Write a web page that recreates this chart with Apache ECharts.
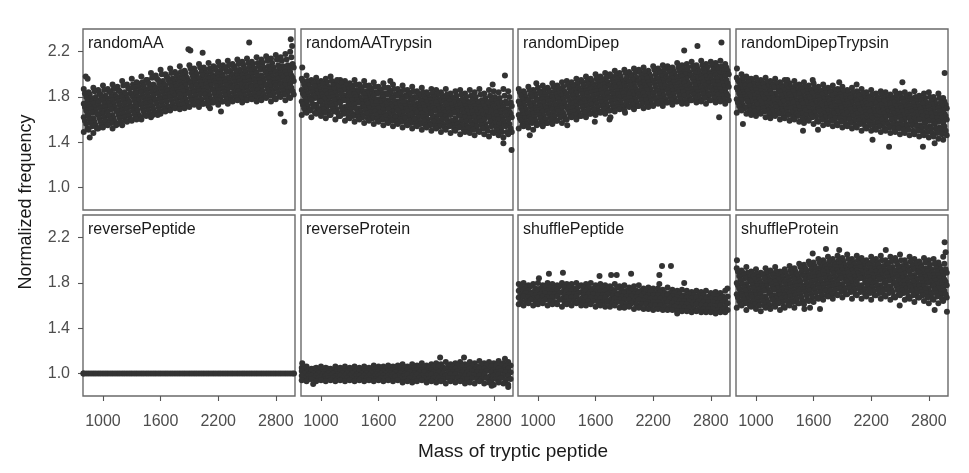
<!DOCTYPE html>
<html>
<head>
<meta charset="utf-8">
<script src="https://cdn.jsdelivr.net/npm/echarts@6/dist/echarts.min.js"></script>
<style>html,body{margin:0;padding:0;background:#fff;}#c{width:969px;height:473px;}</style>
</head>
<body>
<div id="c"></div>
<script>
// ---------- data ----------
const panels = ['randomAA','randomAATrypsin','randomDipep','randomDipepTrypsin','reversePeptide','reverseProtein','shufflePeptide','shuffleProtein'];
const xTicks = [1000,1600,2200,2800];
const yTicks = [1.0,1.4,1.8,2.2];
const massA = [800,850,900,950,1000,1050,1100,1150,1200,1250,1300,1350,1400,1450,1500,1550,1600,1650,1700,1750,1800,1850,1900,1950,2000,2050,2100,2150,2200,2250,2300,2350,2400,2450,2500,2550,2600,2650,2700,2750,2800,2850,2900,2950];
const massB = [825,875,925,975,1025,1075,1125,1175,1225,1275,1325,1375,1425,1475,1525,1575,1625,1675,1725,1775,1825,1875,1925,1975,2025,2075,2125,2175,2225,2275,2325,2375,2425,2475,2525,2575,2625,2675,2725,2775,2825,2875,2925,2975];
const massC = [812,862,912,962,1012,1062,1112,1162,1212,1262,1312,1362,1412,1462,1512,1562,1612,1662,1712,1762,1812,1862,1912,1962,2012,2062,2112,2162,2212,2262,2312,2362,2412,2462,2512,2562,2612,2662,2712,2762,2812,2862,2912,2962];
const massD = [837,887,937,987,1037,1087,1137,1187,1237,1287,1337,1387,1437,1487,1537,1587,1637,1687,1737,1787,1837,1887,1937,1987,2037,2087,2137,2187,2237,2287,2337,2387,2437,2487,2537,2587,2637,2687,2737,2787,2837,2887,2937,2987];

// randomAA
const AA_top = [1.87,1.84,1.88,1.86,1.90,1.87,1.91,1.89,1.94,1.91,1.96,1.93,1.98,1.95,2.01,1.99,2.04,2.00,2.05,2.02,2.07,2.03,2.08,2.05,2.09,2.06,2.10,2.07,2.11,2.08,2.12,2.09,2.13,2.11,2.14,2.11,2.15,2.13,2.16,2.14,2.17,2.15,2.18,2.20];
const AA_top2 = [1.83,1.82,1.85,1.83,1.86,1.85,1.87,1.86,1.90,1.88,1.91,1.92,1.93,1.95,1.97,1.96,2.00,1.98,2.01,2.00,2.02,2.01,2.05,2.02,2.06,2.04,2.05,2.06,2.08,2.06,2.08,2.07,2.09,2.08,2.10,2.09,2.10,2.10,2.12,2.10,2.13,2.12,2.13,2.15];
const AA_upper = [1.80,1.79,1.80,1.82,1.81,1.84,1.82,1.85,1.84,1.87,1.88,1.89,1.90,1.92,1.91,1.95,1.94,1.97,1.96,1.98,1.99,1.97,2.01,2.00,2.02,2.01,2.02,2.04,2.03,2.05,2.03,2.05,2.04,2.05,2.06,2.05,2.07,2.06,2.07,2.06,2.08,2.07,2.08,2.09];
const AA_upper2 = [1.77,1.76,1.77,1.79,1.79,1.80,1.80,1.81,1.82,1.83,1.85,1.86,1.87,1.88,1.89,1.92,1.91,1.94,1.94,1.95,1.96,1.94,1.98,1.97,1.99,1.98,1.99,2.00,2.00,2.02,2.00,2.02,2.01,2.02,2.03,2.02,2.04,2.03,2.04,2.03,2.05,2.04,2.05,2.06];
const AA_mid1 = [1.74,1.73,1.74,1.75,1.77,1.76,1.77,1.78,1.80,1.79,1.82,1.83,1.84,1.85,1.87,1.88,1.89,1.90,1.92,1.91,1.93,1.92,1.94,1.95,1.96,1.95,1.96,1.97,1.97,1.98,1.97,1.99,1.98,1.99,1.99,2.00,2.01,1.99,2.01,2.00,2.02,2.01,2.02,2.02];
const AA_mid1b = [1.71,1.71,1.71,1.72,1.74,1.74,1.74,1.76,1.77,1.77,1.80,1.80,1.81,1.83,1.84,1.85,1.87,1.87,1.89,1.89,1.90,1.90,1.92,1.92,1.93,1.93,1.93,1.94,1.95,1.95,1.95,1.96,1.96,1.96,1.97,1.97,1.98,1.97,1.98,1.98,1.99,1.99,1.99,1.99];
const AA_centre = [1.68,1.69,1.68,1.70,1.71,1.72,1.71,1.73,1.74,1.75,1.77,1.77,1.79,1.80,1.81,1.83,1.84,1.85,1.86,1.86,1.88,1.87,1.89,1.90,1.90,1.91,1.90,1.92,1.92,1.93,1.92,1.93,1.94,1.93,1.94,1.95,1.95,1.94,1.96,1.95,1.96,1.97,1.96,1.97];
const AA_mid2a = [1.65,1.66,1.65,1.67,1.68,1.69,1.68,1.70,1.71,1.72,1.74,1.74,1.76,1.77,1.78,1.80,1.81,1.82,1.83,1.84,1.85,1.84,1.86,1.87,1.87,1.88,1.87,1.89,1.89,1.90,1.89,1.90,1.91,1.90,1.91,1.92,1.92,1.91,1.93,1.92,1.93,1.94,1.93,1.94];
const AA_mid2 = [1.62,1.63,1.61,1.64,1.65,1.66,1.64,1.67,1.68,1.69,1.71,1.71,1.73,1.74,1.75,1.77,1.78,1.79,1.80,1.81,1.82,1.81,1.83,1.84,1.85,1.85,1.84,1.86,1.86,1.87,1.86,1.88,1.88,1.87,1.88,1.89,1.89,1.88,1.90,1.89,1.90,1.91,1.90,1.91];
const AA_lower2 = [1.59,1.60,1.58,1.61,1.62,1.63,1.61,1.64,1.65,1.66,1.68,1.68,1.70,1.71,1.72,1.74,1.75,1.76,1.77,1.78,1.79,1.78,1.80,1.81,1.82,1.82,1.81,1.83,1.83,1.84,1.83,1.84,1.85,1.84,1.85,1.86,1.86,1.85,1.87,1.86,1.87,1.88,1.87,1.88];
const AA_lower = [1.56,1.57,1.55,1.58,1.59,1.60,1.58,1.61,1.62,1.63,1.65,1.64,1.67,1.68,1.69,1.71,1.72,1.72,1.74,1.75,1.76,1.75,1.77,1.78,1.78,1.79,1.78,1.80,1.80,1.81,1.80,1.81,1.82,1.81,1.82,1.83,1.83,1.82,1.84,1.83,1.84,1.85,1.84,1.85];
const AA_bottom2 = [1.52,1.54,1.52,1.55,1.56,1.57,1.55,1.58,1.59,1.60,1.62,1.62,1.64,1.65,1.66,1.68,1.69,1.70,1.71,1.72,1.73,1.72,1.74,1.75,1.74,1.76,1.75,1.77,1.76,1.78,1.77,1.79,1.79,1.78,1.80,1.80,1.79,1.80,1.81,1.79,1.81,1.82,1.80,1.82];
const AA_bottom = [1.49,1.51,1.48,1.52,1.53,1.55,1.52,1.56,1.55,1.58,1.59,1.60,1.60,1.63,1.62,1.66,1.65,1.67,1.68,1.70,1.69,1.70,1.71,1.73,1.71,1.74,1.72,1.75,1.73,1.76,1.74,1.76,1.77,1.75,1.77,1.78,1.76,1.77,1.79,1.76,1.78,1.80,1.77,1.79];
const AA_outliers = [[820,1.98],[840,1.96],[862,1.44],[1519,1.64],[1570,1.64],[1890,2.22],[1910,2.21],[2038,2.19],[2115,1.70],[2229,1.67],[2523,2.28],[2850,1.65],[2890,1.58],[2956,2.31],[2970,2.25]];

// randomAATrypsin
const AAT_top = [1.96,1.99,1.95,1.97,1.94,1.96,1.98,1.93,1.95,1.94,1.92,1.95,1.91,1.94,1.90,1.93,1.89,1.92,1.88,1.91,1.87,1.90,1.86,1.89,1.85,1.88,1.84,1.87,1.86,1.84,1.87,1.83,1.85,1.86,1.83,1.86,1.84,1.87,1.83,1.86,1.85,1.84,1.87,1.85];
const AAT_top2 = [1.94,1.94,1.93,1.93,1.92,1.93,1.94,1.91,1.92,1.90,1.90,1.91,1.89,1.90,1.88,1.89,1.87,1.88,1.86,1.87,1.85,1.86,1.84,1.85,1.83,1.84,1.82,1.83,1.82,1.81,1.82,1.80,1.81,1.82,1.80,1.81,1.80,1.82,1.79,1.81,1.80,1.79,1.81,1.80];
const AAT_upper = [1.91,1.90,1.92,1.89,1.91,1.89,1.90,1.89,1.88,1.87,1.88,1.86,1.87,1.85,1.86,1.84,1.85,1.83,1.84,1.82,1.83,1.81,1.82,1.80,1.81,1.80,1.79,1.80,1.78,1.79,1.78,1.78,1.77,1.78,1.76,1.77,1.76,1.77,1.76,1.77,1.76,1.75,1.76,1.75];
const AAT_upper2 = [1.88,1.87,1.89,1.87,1.88,1.87,1.87,1.86,1.86,1.84,1.85,1.84,1.84,1.83,1.82,1.83,1.81,1.82,1.80,1.81,1.79,1.80,1.78,1.79,1.77,1.78,1.77,1.77,1.76,1.76,1.76,1.75,1.74,1.75,1.74,1.74,1.74,1.74,1.74,1.73,1.74,1.72,1.74,1.72];
const AAT_mid1 = [1.86,1.84,1.87,1.85,1.84,1.85,1.84,1.83,1.85,1.81,1.83,1.82,1.80,1.82,1.79,1.81,1.78,1.80,1.77,1.79,1.76,1.78,1.75,1.77,1.74,1.76,1.75,1.74,1.75,1.72,1.74,1.73,1.71,1.73,1.72,1.71,1.72,1.71,1.72,1.70,1.72,1.70,1.71,1.69];
const AAT_mid1b = [1.83,1.82,1.84,1.82,1.82,1.82,1.82,1.81,1.82,1.79,1.80,1.80,1.78,1.79,1.77,1.78,1.76,1.77,1.75,1.76,1.74,1.75,1.73,1.74,1.72,1.73,1.72,1.72,1.72,1.70,1.71,1.70,1.69,1.70,1.69,1.69,1.69,1.69,1.69,1.68,1.69,1.67,1.68,1.67];
const AAT_centre = [1.81,1.80,1.81,1.79,1.80,1.79,1.80,1.78,1.79,1.77,1.77,1.77,1.76,1.76,1.75,1.75,1.74,1.74,1.73,1.73,1.72,1.72,1.71,1.71,1.70,1.71,1.69,1.70,1.69,1.68,1.69,1.68,1.67,1.68,1.67,1.67,1.66,1.67,1.66,1.67,1.66,1.65,1.66,1.65];
const AAT_mid2a = [1.78,1.78,1.79,1.76,1.78,1.76,1.77,1.75,1.77,1.74,1.74,1.75,1.73,1.74,1.72,1.72,1.72,1.71,1.71,1.70,1.70,1.69,1.69,1.68,1.68,1.68,1.66,1.68,1.66,1.66,1.66,1.66,1.64,1.65,1.64,1.64,1.64,1.64,1.63,1.64,1.63,1.62,1.63,1.62];
const AAT_mid2 = [1.76,1.75,1.77,1.73,1.76,1.74,1.74,1.73,1.75,1.71,1.72,1.73,1.70,1.71,1.70,1.69,1.70,1.68,1.69,1.67,1.68,1.66,1.67,1.65,1.66,1.65,1.64,1.65,1.63,1.64,1.63,1.64,1.61,1.63,1.62,1.61,1.62,1.61,1.60,1.62,1.60,1.60,1.59,1.60];
const AAT_lower2 = [1.73,1.72,1.74,1.70,1.72,1.71,1.72,1.69,1.71,1.68,1.69,1.70,1.67,1.68,1.66,1.67,1.66,1.65,1.65,1.64,1.64,1.63,1.63,1.62,1.62,1.62,1.60,1.61,1.60,1.60,1.60,1.59,1.58,1.59,1.58,1.58,1.58,1.58,1.56,1.58,1.57,1.56,1.56,1.56];
const AAT_lower = [1.70,1.69,1.71,1.68,1.69,1.67,1.69,1.66,1.68,1.66,1.65,1.66,1.64,1.65,1.63,1.64,1.62,1.63,1.61,1.62,1.60,1.61,1.59,1.60,1.58,1.59,1.57,1.58,1.57,1.56,1.57,1.55,1.56,1.55,1.54,1.55,1.54,1.55,1.53,1.54,1.53,1.52,1.54,1.52];
const AAT_bottom2 = [1.67,1.68,1.66,1.67,1.66,1.64,1.67,1.63,1.65,1.62,1.63,1.62,1.62,1.61,1.61,1.60,1.60,1.59,1.59,1.58,1.58,1.57,1.57,1.56,1.56,1.55,1.55,1.54,1.54,1.53,1.54,1.52,1.53,1.51,1.52,1.51,1.50,1.52,1.50,1.49,1.50,1.49,1.49,1.49];
const AAT_bottom = [1.64,1.66,1.62,1.65,1.63,1.61,1.64,1.60,1.63,1.59,1.61,1.58,1.60,1.57,1.59,1.56,1.58,1.55,1.57,1.54,1.56,1.53,1.55,1.52,1.54,1.51,1.53,1.50,1.52,1.49,1.51,1.48,1.50,1.47,1.49,1.48,1.46,1.49,1.47,1.45,1.48,1.46,1.44,1.47];
const AAT_outliers = [[805,2.06],[1168,1.95],[1500,1.89],[1722,1.94],[2788,1.91],[2916,1.99],[2900,1.39],[2985,1.33]];

// randomDipep
const DP_top = [1.87,1.85,1.89,1.86,1.88,1.90,1.88,1.92,1.90,1.93,1.94,1.93,1.96,1.95,1.98,1.96,2.00,1.98,2.01,2.00,2.03,2.01,2.04,2.02,2.05,2.04,2.06,2.03,2.07,2.05,2.08,2.07,2.06,2.10,2.08,2.09,2.11,2.08,2.12,2.09,2.11,2.10,2.12,2.09];
const DP_top2 = [1.84,1.83,1.86,1.83,1.85,1.86,1.86,1.89,1.88,1.89,1.91,1.91,1.92,1.93,1.94,1.94,1.96,1.96,1.97,1.98,1.99,1.98,2.01,2.00,2.01,2.02,2.02,2.00,2.04,2.03,2.04,2.04,2.03,2.06,2.05,2.06,2.07,2.05,2.08,2.06,2.08,2.07,2.07,2.06];
const DP_upper = [1.81,1.80,1.82,1.81,1.83,1.82,1.84,1.85,1.86,1.85,1.88,1.89,1.88,1.90,1.91,1.91,1.93,1.94,1.93,1.95,1.96,1.95,1.97,1.98,1.97,1.99,1.98,1.98,2.00,2.01,2.00,2.02,2.01,2.03,2.02,2.02,2.04,2.03,2.04,2.02,2.04,2.04,2.03,2.03];
const DP_upper2 = [1.78,1.77,1.80,1.78,1.80,1.80,1.81,1.82,1.83,1.83,1.85,1.86,1.86,1.87,1.88,1.89,1.90,1.91,1.90,1.92,1.93,1.93,1.94,1.95,1.94,1.96,1.96,1.95,1.97,1.98,1.97,1.99,1.98,2.00,2.00,1.99,2.01,2.00,2.01,2.00,2.01,2.01,2.00,2.00];
const DP_mid1 = [1.76,1.74,1.77,1.75,1.77,1.78,1.78,1.80,1.80,1.81,1.82,1.84,1.83,1.85,1.85,1.87,1.87,1.89,1.88,1.90,1.90,1.91,1.91,1.93,1.91,1.94,1.93,1.93,1.94,1.96,1.95,1.96,1.96,1.97,1.98,1.96,1.99,1.97,1.98,1.98,1.98,1.99,1.97,1.98];
const DP_mid1b = [1.73,1.72,1.74,1.72,1.74,1.75,1.76,1.77,1.78,1.78,1.80,1.81,1.80,1.82,1.83,1.84,1.85,1.86,1.85,1.87,1.88,1.88,1.89,1.90,1.88,1.91,1.90,1.90,1.92,1.93,1.92,1.94,1.93,1.94,1.95,1.93,1.96,1.94,1.96,1.95,1.95,1.96,1.94,1.95];
const DP_centre = [1.70,1.69,1.71,1.70,1.72,1.72,1.73,1.74,1.75,1.75,1.77,1.78,1.78,1.79,1.80,1.81,1.82,1.83,1.83,1.84,1.85,1.85,1.86,1.87,1.86,1.88,1.88,1.87,1.89,1.90,1.90,1.91,1.90,1.92,1.92,1.91,1.93,1.92,1.93,1.92,1.93,1.93,1.92,1.92];
const DP_mid2a = [1.67,1.66,1.68,1.68,1.69,1.70,1.70,1.72,1.72,1.72,1.74,1.75,1.75,1.77,1.77,1.78,1.79,1.80,1.80,1.82,1.82,1.83,1.83,1.84,1.84,1.85,1.86,1.84,1.86,1.87,1.87,1.88,1.88,1.89,1.89,1.88,1.90,1.89,1.90,1.89,1.90,1.90,1.89,1.89];
const DP_mid2 = [1.64,1.64,1.65,1.65,1.66,1.67,1.67,1.69,1.69,1.70,1.71,1.73,1.72,1.74,1.74,1.76,1.76,1.78,1.77,1.79,1.79,1.80,1.80,1.82,1.81,1.82,1.83,1.82,1.83,1.85,1.84,1.86,1.85,1.86,1.87,1.86,1.87,1.87,1.88,1.86,1.88,1.87,1.87,1.86];
const DP_lower2 = [1.61,1.61,1.62,1.62,1.64,1.63,1.65,1.66,1.67,1.66,1.69,1.70,1.69,1.71,1.72,1.73,1.74,1.75,1.74,1.76,1.77,1.76,1.78,1.79,1.78,1.80,1.80,1.79,1.80,1.82,1.81,1.83,1.82,1.84,1.84,1.83,1.84,1.84,1.85,1.83,1.85,1.84,1.84,1.83];
const DP_lower = [1.59,1.58,1.60,1.59,1.61,1.60,1.62,1.63,1.64,1.63,1.66,1.67,1.66,1.68,1.69,1.70,1.71,1.72,1.71,1.73,1.74,1.73,1.75,1.76,1.75,1.77,1.77,1.76,1.78,1.79,1.78,1.80,1.79,1.81,1.81,1.80,1.82,1.81,1.82,1.81,1.82,1.82,1.81,1.81];
const DP_bottom2 = [1.55,1.56,1.57,1.55,1.58,1.57,1.60,1.59,1.62,1.60,1.63,1.64,1.63,1.66,1.65,1.68,1.67,1.69,1.68,1.70,1.71,1.71,1.72,1.73,1.72,1.74,1.74,1.73,1.75,1.76,1.75,1.77,1.76,1.78,1.77,1.77,1.79,1.78,1.79,1.77,1.79,1.78,1.78,1.77];
const DP_bottom = [1.52,1.54,1.53,1.51,1.56,1.54,1.57,1.56,1.59,1.57,1.60,1.62,1.60,1.63,1.62,1.65,1.64,1.66,1.65,1.68,1.67,1.69,1.68,1.71,1.69,1.72,1.70,1.71,1.72,1.74,1.72,1.75,1.73,1.76,1.74,1.74,1.77,1.75,1.76,1.74,1.77,1.75,1.76,1.74];
const DP_outliers = [[915,1.46],[983,1.92],[1305,1.55],[1592,1.58],[1745,1.60],[1755,1.62],[1907,1.66],[2523,2.21],[2661,2.25],[2887,1.62],[2911,2.28]];

// randomDipepTrypsin
const DT_top = [1.97,2.00,1.98,1.96,1.97,1.95,1.97,1.94,1.96,1.93,1.95,1.92,1.94,1.91,1.93,1.90,1.92,1.89,1.91,1.88,1.90,1.87,1.89,1.86,1.88,1.85,1.87,1.84,1.86,1.83,1.85,1.84,1.82,1.85,1.83,1.84,1.82,1.85,1.81,1.83,1.84,1.80,1.83,1.79];
const DT_top2 = [1.95,1.96,1.96,1.93,1.94,1.93,1.93,1.92,1.92,1.90,1.91,1.89,1.90,1.89,1.89,1.87,1.88,1.86,1.87,1.86,1.86,1.85,1.85,1.84,1.84,1.83,1.83,1.81,1.82,1.80,1.82,1.80,1.80,1.81,1.80,1.80,1.79,1.80,1.79,1.79,1.80,1.77,1.79,1.76];
const DT_upper = [1.93,1.92,1.93,1.91,1.90,1.91,1.89,1.90,1.88,1.88,1.87,1.87,1.86,1.87,1.85,1.85,1.84,1.84,1.83,1.84,1.82,1.82,1.81,1.81,1.80,1.81,1.79,1.79,1.78,1.78,1.79,1.77,1.78,1.77,1.78,1.76,1.77,1.76,1.77,1.75,1.76,1.74,1.75,1.73];
const DT_upper2 = [1.90,1.90,1.90,1.88,1.88,1.88,1.86,1.88,1.85,1.86,1.84,1.85,1.83,1.84,1.82,1.83,1.81,1.82,1.80,1.81,1.79,1.80,1.78,1.79,1.77,1.78,1.76,1.77,1.75,1.76,1.76,1.74,1.75,1.74,1.75,1.73,1.74,1.73,1.74,1.72,1.73,1.71,1.72,1.70];
const DT_mid1 = [1.88,1.87,1.87,1.86,1.86,1.85,1.84,1.85,1.83,1.84,1.82,1.82,1.81,1.82,1.80,1.80,1.79,1.80,1.78,1.78,1.77,1.78,1.76,1.76,1.75,1.76,1.74,1.74,1.73,1.74,1.73,1.72,1.73,1.72,1.72,1.71,1.72,1.71,1.71,1.70,1.71,1.69,1.70,1.68];
const DT_mid1b = [1.86,1.84,1.85,1.83,1.83,1.82,1.82,1.82,1.80,1.81,1.79,1.80,1.78,1.79,1.77,1.78,1.76,1.77,1.75,1.76,1.74,1.75,1.73,1.74,1.72,1.73,1.71,1.72,1.70,1.71,1.70,1.69,1.70,1.69,1.70,1.68,1.69,1.68,1.69,1.67,1.68,1.66,1.67,1.65];
const DT_centre = [1.83,1.82,1.82,1.81,1.80,1.80,1.79,1.79,1.78,1.78,1.77,1.77,1.76,1.76,1.75,1.75,1.74,1.74,1.73,1.73,1.72,1.72,1.71,1.71,1.70,1.70,1.69,1.69,1.68,1.68,1.68,1.67,1.68,1.67,1.67,1.66,1.67,1.66,1.66,1.65,1.65,1.64,1.64,1.63];
const DT_mid2a = [1.80,1.80,1.80,1.78,1.78,1.78,1.76,1.77,1.75,1.76,1.74,1.75,1.73,1.74,1.72,1.73,1.71,1.72,1.70,1.71,1.69,1.70,1.68,1.69,1.67,1.68,1.66,1.67,1.65,1.66,1.65,1.64,1.65,1.64,1.64,1.63,1.64,1.63,1.63,1.62,1.62,1.61,1.61,1.60];
const DT_mid2 = [1.78,1.77,1.78,1.76,1.75,1.76,1.74,1.74,1.73,1.73,1.72,1.72,1.71,1.71,1.70,1.70,1.69,1.69,1.68,1.68,1.67,1.67,1.66,1.66,1.65,1.65,1.64,1.64,1.63,1.63,1.62,1.62,1.63,1.61,1.62,1.60,1.61,1.60,1.60,1.59,1.59,1.58,1.58,1.57];
const DT_lower2 = [1.75,1.73,1.76,1.72,1.73,1.72,1.71,1.70,1.71,1.69,1.69,1.70,1.68,1.67,1.68,1.66,1.66,1.67,1.65,1.64,1.65,1.63,1.64,1.62,1.63,1.61,1.62,1.60,1.61,1.59,1.60,1.58,1.60,1.57,1.59,1.56,1.58,1.57,1.55,1.57,1.54,1.56,1.53,1.54];
const DT_lower = [1.72,1.71,1.72,1.70,1.69,1.70,1.68,1.68,1.67,1.67,1.66,1.66,1.65,1.65,1.64,1.64,1.63,1.63,1.62,1.62,1.61,1.61,1.60,1.60,1.59,1.59,1.58,1.58,1.57,1.57,1.56,1.56,1.56,1.55,1.55,1.54,1.55,1.54,1.53,1.53,1.52,1.52,1.51,1.50];
const DT_bottom2 = [1.69,1.70,1.68,1.67,1.66,1.67,1.65,1.64,1.65,1.63,1.64,1.62,1.63,1.61,1.60,1.62,1.59,1.60,1.58,1.59,1.57,1.58,1.56,1.57,1.55,1.56,1.54,1.55,1.53,1.54,1.52,1.53,1.52,1.52,1.51,1.51,1.50,1.50,1.49,1.49,1.48,1.48,1.47,1.46];
const DT_bottom = [1.66,1.68,1.65,1.64,1.63,1.65,1.62,1.61,1.63,1.60,1.61,1.59,1.60,1.58,1.57,1.59,1.56,1.58,1.55,1.56,1.54,1.55,1.53,1.54,1.52,1.53,1.50,1.52,1.50,1.51,1.49,1.50,1.48,1.49,1.47,1.48,1.46,1.47,1.45,1.46,1.44,1.45,1.43,1.42];
const DT_outliers = [[802,2.05],[864,1.56],[1327,1.95],[1490,1.50],[1591,1.95],[1646,1.51],[1867,1.93],[2048,1.91],[2214,1.42],[2386,1.36],[2525,1.93],[2739,1.36],[2861,1.39],[2965,2.01]];

// reversePeptide
const RPEP_values = [1.0,1.0,1.0,1.0,1.0,1.0,1.0,1.0,1.0,1.0,1.0,1.0,1.0,1.0,1.0,1.0,1.0,1.0,1.0,1.0,1.0,1.0,1.0,1.0,1.0,1.0,1.0,1.0,1.0,1.0,1.0,1.0,1.0,1.0,1.0,1.0,1.0,1.0,1.0,1.0,1.0,1.0,1.0,1.0];
const RPEP_outliers = [[795,1.0],[2990,1.0]];

// reverseProtein
const RP_top = [1.05,1.06,1.04,1.05,1.06,1.05,1.04,1.06,1.05,1.06,1.05,1.06,1.05,1.06,1.05,1.07,1.06,1.06,1.07,1.06,1.07,1.08,1.06,1.08,1.07,1.09,1.07,1.08,1.09,1.08,1.10,1.08,1.09,1.10,1.08,1.10,1.09,1.11,1.09,1.10,1.09,1.11,1.09,1.10];
const RP_upper = [1.04,1.03,1.04,1.03,1.04,1.04,1.03,1.04,1.04,1.03,1.04,1.04,1.03,1.04,1.04,1.04,1.04,1.04,1.05,1.05,1.04,1.05,1.05,1.05,1.05,1.06,1.05,1.06,1.06,1.05,1.06,1.06,1.07,1.06,1.06,1.07,1.06,1.07,1.07,1.06,1.07,1.07,1.06,1.07];
const RP_mid1 = [1.02,1.01,1.02,1.02,1.01,1.02,1.02,1.01,1.02,1.02,1.02,1.01,1.02,1.02,1.02,1.01,1.02,1.02,1.02,1.03,1.02,1.02,1.03,1.02,1.03,1.03,1.02,1.03,1.03,1.02,1.04,1.03,1.04,1.03,1.03,1.04,1.03,1.04,1.04,1.03,1.03,1.04,1.03,1.04];
const RP_centre = [1.00,0.99,1.00,1.00,0.99,1.00,1.00,0.99,1.00,1.00,1.00,0.99,1.00,1.00,1.00,0.99,1.00,1.00,1.00,1.01,1.00,1.00,1.01,1.00,1.01,1.01,1.00,1.01,1.01,1.00,1.01,1.01,1.02,1.01,1.01,1.02,1.01,1.01,1.02,1.01,1.01,1.02,1.01,1.01];
const RP_mid2 = [0.98,0.97,0.98,0.98,0.97,0.98,0.98,0.97,0.98,0.98,0.98,0.97,0.98,0.98,0.98,0.97,0.98,0.98,0.98,0.99,0.98,0.97,0.99,0.98,0.99,0.98,0.98,0.99,0.98,0.97,0.98,0.99,0.99,0.98,0.98,0.99,0.98,0.98,0.99,0.97,0.98,0.99,0.98,0.98];
const RP_lower = [0.96,0.95,0.96,0.96,0.95,0.96,0.96,0.95,0.96,0.96,0.96,0.95,0.96,0.96,0.96,0.95,0.96,0.96,0.95,0.97,0.96,0.95,0.96,0.95,0.96,0.96,0.95,0.96,0.96,0.95,0.96,0.96,0.96,0.95,0.95,0.96,0.95,0.95,0.96,0.94,0.95,0.96,0.94,0.95];
const RP_bottom = [0.94,0.93,0.95,0.93,0.94,0.93,0.94,0.93,0.94,0.93,0.94,0.93,0.94,0.93,0.94,0.93,0.94,0.93,0.94,0.93,0.94,0.92,0.93,0.92,0.93,0.94,0.92,0.93,0.92,0.93,0.91,0.93,0.92,0.93,0.91,0.92,0.91,0.93,0.91,0.92,0.90,0.92,0.91,0.90];
const RP_outliers = [[805,1.09],[919,0.905],[2241,1.14],[2490,1.14],[2778,0.89],[2916,1.13],[2950,0.88]];

// shufflePeptide
const SP_top = [1.79,1.80,1.78,1.79,1.80,1.78,1.80,1.79,1.78,1.80,1.79,1.79,1.80,1.78,1.79,1.80,1.78,1.79,1.78,1.77,1.79,1.77,1.78,1.76,1.77,1.78,1.75,1.76,1.75,1.75,1.74,1.76,1.74,1.73,1.74,1.73,1.72,1.73,1.72,1.73,1.71,1.72,1.71,1.73];
const SP_upper = [1.76,1.76,1.77,1.75,1.75,1.77,1.76,1.75,1.77,1.76,1.76,1.75,1.77,1.76,1.76,1.75,1.75,1.76,1.75,1.74,1.76,1.74,1.73,1.74,1.73,1.73,1.73,1.72,1.71,1.72,1.71,1.71,1.71,1.70,1.69,1.70,1.69,1.69,1.69,1.68,1.69,1.68,1.68,1.68];
const SP_mid1 = [1.73,1.74,1.73,1.72,1.73,1.73,1.73,1.72,1.74,1.72,1.73,1.73,1.73,1.72,1.73,1.72,1.72,1.72,1.73,1.71,1.72,1.71,1.71,1.71,1.70,1.71,1.70,1.69,1.69,1.69,1.68,1.69,1.68,1.67,1.67,1.67,1.66,1.67,1.66,1.66,1.66,1.65,1.66,1.65];
const SP_centre = [1.70,1.71,1.70,1.69,1.70,1.71,1.70,1.70,1.71,1.69,1.70,1.70,1.71,1.69,1.70,1.70,1.69,1.69,1.70,1.68,1.69,1.68,1.68,1.68,1.67,1.68,1.67,1.66,1.66,1.66,1.65,1.66,1.65,1.64,1.64,1.64,1.63,1.64,1.63,1.63,1.63,1.62,1.63,1.62];
const SP_mid2 = [1.67,1.68,1.67,1.66,1.67,1.68,1.67,1.67,1.68,1.66,1.67,1.67,1.68,1.66,1.67,1.67,1.66,1.66,1.67,1.65,1.66,1.65,1.65,1.65,1.64,1.65,1.64,1.63,1.63,1.63,1.62,1.63,1.62,1.61,1.61,1.61,1.60,1.61,1.60,1.60,1.60,1.59,1.60,1.59];
const SP_lower = [1.64,1.64,1.65,1.63,1.64,1.65,1.64,1.63,1.65,1.63,1.64,1.64,1.64,1.63,1.64,1.64,1.63,1.63,1.63,1.62,1.63,1.62,1.61,1.62,1.61,1.61,1.61,1.60,1.60,1.60,1.59,1.59,1.59,1.58,1.58,1.58,1.57,1.57,1.57,1.57,1.57,1.56,1.57,1.56];
const SP_bottom = [1.61,1.60,1.62,1.60,1.61,1.62,1.60,1.61,1.61,1.59,1.61,1.60,1.62,1.60,1.60,1.61,1.59,1.60,1.59,1.59,1.60,1.58,1.58,1.59,1.57,1.58,1.57,1.57,1.56,1.57,1.56,1.56,1.56,1.55,1.55,1.55,1.54,1.55,1.54,1.54,1.54,1.53,1.54,1.54];
const SP_outliers = [[1010,1.84],[1114,1.88],[1260,1.89],[1641,1.86],[1762,1.87],[1820,1.87],[1970,1.88],[2264,1.87],[2264,1.79],[2292,1.95],[2385,1.95],[2450,1.53],[2523,1.80],[2973,1.75]];

// shuffleProtein
const SPR_top = [1.93,1.91,1.94,1.90,1.92,1.89,1.93,1.91,1.94,1.90,1.92,1.95,1.93,1.97,1.96,1.99,1.98,2.01,2.00,2.03,2.01,2.04,2.02,2.05,2.01,2.04,2.02,2.00,2.03,2.01,2.04,2.00,2.03,2.02,2.05,2.00,2.03,2.01,1.99,2.02,2.00,2.01,1.98,2.03];
const SPR_top2 = [1.90,1.89,1.89,1.88,1.88,1.88,1.89,1.89,1.90,1.88,1.89,1.91,1.90,1.94,1.93,1.96,1.95,1.98,1.97,1.99,1.98,2.00,1.99,2.01,1.98,2.00,1.99,1.98,1.99,1.98,2.00,1.98,1.99,1.99,2.00,1.97,1.99,1.97,1.96,1.98,1.96,1.97,1.95,1.97];
const SPR_upper = [1.86,1.87,1.85,1.86,1.85,1.87,1.85,1.87,1.86,1.85,1.86,1.88,1.88,1.90,1.91,1.92,1.93,1.94,1.95,1.95,1.96,1.97,1.96,1.97,1.96,1.97,1.95,1.96,1.95,1.96,1.95,1.96,1.94,1.96,1.95,1.94,1.95,1.93,1.94,1.93,1.92,1.93,1.92,1.92];
const SPR_upper2 = [1.83,1.84,1.82,1.83,1.82,1.84,1.82,1.84,1.83,1.82,1.84,1.85,1.86,1.87,1.88,1.89,1.90,1.91,1.92,1.92,1.94,1.94,1.93,1.94,1.93,1.94,1.92,1.93,1.92,1.93,1.92,1.93,1.91,1.93,1.92,1.91,1.92,1.90,1.91,1.90,1.89,1.90,1.89,1.89];
const SPR_mid1 = [1.80,1.82,1.79,1.81,1.79,1.80,1.80,1.81,1.81,1.79,1.81,1.81,1.83,1.83,1.86,1.86,1.88,1.88,1.90,1.89,1.91,1.91,1.91,1.91,1.91,1.91,1.90,1.90,1.90,1.90,1.90,1.90,1.89,1.90,1.90,1.88,1.90,1.87,1.89,1.87,1.87,1.87,1.87,1.86];
const SPR_mid1b = [1.78,1.79,1.76,1.78,1.77,1.77,1.77,1.79,1.78,1.76,1.78,1.79,1.80,1.81,1.83,1.84,1.85,1.86,1.87,1.86,1.88,1.89,1.88,1.89,1.88,1.88,1.87,1.88,1.87,1.87,1.87,1.88,1.86,1.87,1.87,1.85,1.87,1.84,1.86,1.85,1.84,1.84,1.84,1.83];
const SPR_centre = [1.75,1.76,1.74,1.75,1.74,1.75,1.74,1.76,1.75,1.74,1.75,1.76,1.77,1.78,1.80,1.81,1.82,1.83,1.84,1.84,1.85,1.86,1.85,1.86,1.85,1.86,1.84,1.85,1.84,1.85,1.84,1.85,1.83,1.85,1.84,1.83,1.84,1.82,1.83,1.82,1.81,1.82,1.81,1.81];
const SPR_mid2a = [1.72,1.73,1.71,1.72,1.72,1.73,1.71,1.74,1.72,1.71,1.72,1.73,1.74,1.76,1.77,1.78,1.79,1.80,1.81,1.81,1.82,1.84,1.82,1.83,1.82,1.84,1.81,1.82,1.81,1.83,1.81,1.82,1.80,1.82,1.81,1.80,1.81,1.79,1.80,1.80,1.78,1.79,1.78,1.78];
const SPR_mid2 = [1.70,1.70,1.69,1.69,1.69,1.70,1.68,1.71,1.69,1.69,1.69,1.71,1.71,1.73,1.74,1.76,1.76,1.78,1.78,1.79,1.79,1.81,1.79,1.81,1.79,1.81,1.78,1.80,1.78,1.80,1.78,1.80,1.77,1.80,1.78,1.78,1.78,1.77,1.77,1.77,1.75,1.77,1.75,1.76];
const SPR_lower2 = [1.67,1.68,1.66,1.67,1.66,1.67,1.65,1.68,1.66,1.66,1.67,1.68,1.69,1.70,1.72,1.73,1.74,1.75,1.75,1.76,1.77,1.78,1.76,1.78,1.77,1.78,1.75,1.77,1.76,1.77,1.75,1.77,1.74,1.77,1.75,1.75,1.76,1.74,1.74,1.74,1.72,1.74,1.72,1.73];
const SPR_lower = [1.64,1.65,1.63,1.64,1.63,1.64,1.63,1.65,1.64,1.63,1.64,1.65,1.66,1.67,1.69,1.70,1.71,1.72,1.73,1.73,1.74,1.75,1.74,1.75,1.74,1.75,1.73,1.74,1.73,1.74,1.73,1.74,1.72,1.74,1.73,1.72,1.73,1.71,1.72,1.71,1.70,1.71,1.70,1.70];
const SPR_bottom2 = [1.61,1.62,1.60,1.61,1.60,1.60,1.60,1.61,1.62,1.59,1.61,1.63,1.62,1.64,1.65,1.67,1.67,1.69,1.69,1.70,1.70,1.72,1.70,1.72,1.70,1.72,1.70,1.71,1.69,1.71,1.69,1.71,1.68,1.70,1.71,1.68,1.69,1.67,1.69,1.67,1.66,1.68,1.66,1.67];
const SPR_bottom = [1.58,1.60,1.56,1.59,1.57,1.55,1.58,1.57,1.59,1.56,1.58,1.60,1.58,1.62,1.61,1.64,1.63,1.66,1.65,1.68,1.66,1.69,1.67,1.70,1.66,1.69,1.66,1.68,1.65,1.69,1.66,1.68,1.65,1.67,1.69,1.65,1.66,1.63,1.67,1.64,1.62,1.65,1.62,1.64];
const SPR_outliers = [[802,2.00],[1504,1.57],[1563,1.58],[1591,2.06],[1667,1.57],[1729,2.10],[1867,2.09],[2352,2.09],[2497,1.60],[2861,1.56],[2965,2.16],[2975,2.07],[2989,1.545]];

const panelRows = [
  [AA_top,AA_top2,AA_upper,AA_upper2,AA_mid1,AA_mid1b,AA_centre,AA_mid2a,AA_mid2,AA_lower2,AA_lower,AA_bottom2,AA_bottom],
  [AAT_top,AAT_top2,AAT_upper,AAT_upper2,AAT_mid1,AAT_mid1b,AAT_centre,AAT_mid2a,AAT_mid2,AAT_lower2,AAT_lower,AAT_bottom2,AAT_bottom],
  [DP_top,DP_top2,DP_upper,DP_upper2,DP_mid1,DP_mid1b,DP_centre,DP_mid2a,DP_mid2,DP_lower2,DP_lower,DP_bottom2,DP_bottom],
  [DT_top,DT_top2,DT_upper,DT_upper2,DT_mid1,DT_mid1b,DT_centre,DT_mid2a,DT_mid2,DT_lower2,DT_lower,DT_bottom2,DT_bottom],
  [RPEP_values,RPEP_values],
  [RP_top,RP_upper,RP_mid1,RP_centre,RP_mid2,RP_lower,RP_bottom],
  [SP_top,SP_upper,SP_mid1,SP_centre,SP_mid2,SP_lower,SP_bottom],
  [SPR_top,SPR_top2,SPR_upper,SPR_upper2,SPR_mid1,SPR_mid1b,SPR_centre,SPR_mid2a,SPR_mid2,SPR_lower2,SPR_lower,SPR_bottom2,SPR_bottom]
];
const panelOutliers = [AA_outliers,AAT_outliers,DP_outliers,DT_outliers,RPEP_outliers,RP_outliers,SP_outliers,SPR_outliers];

// ---------- layout ----------
const colLeft = [83, 301, 518, 736];
const rowTop = [29, 215];
const PW = 212, PH = 181;
const FONT = '"Liberation Sans", Arial, Helvetica, sans-serif';

function points(p) {
  const pts = [];
  const rows = panelRows[p];
  const cycle = rows.length > 7 ? [massA, massC, massB, massD] : [massA, massB];
  rows.forEach((row, r) => {
    const xs = cycle[r % cycle.length];
    row.forEach((v, i) => pts.push([xs[i], v]));
  });
  panelOutliers[p].forEach(d => pts.push(d));
  return pts;
}

const grids = [], xAxes = [], yAxes = [], series = [], titles = [];
panels.forEach((name, p) => {
  const c = p % 4, r = Math.floor(p / 4);
  grids.push({left: colLeft[c], top: rowTop[r], width: PW, height: PH, show: true,
    borderColor: '#6a6a6a', borderWidth: 1.4, backgroundColor: 'rgba(0,0,0,0)'});
  xAxes.push({gridIndex: p, type: 'value', min: 792, max: 3000,
    axisLine: {show: false}, splitLine: {show: false},
    axisTick: {show: r === 1, length: 5, customValues: xTicks, lineStyle: {color: '#555', width: 1.1}},
    axisLabel: {show: r === 1, customValues: xTicks, fontSize: 16, color: '#4d4d4d', margin: 18, fontFamily: FONT,
      formatter: v => String(v)}});
  yAxes.push({gridIndex: p, type: 'value', min: 0.8, max: 2.4,
    axisLine: {show: false}, splitLine: {show: false},
    axisTick: {show: c === 0, length: 5, customValues: yTicks, lineStyle: {color: '#555', width: 1.1}},
    axisLabel: {show: c === 0, customValues: yTicks, fontSize: 16, color: '#4d4d4d', margin: 13, fontFamily: FONT,
      formatter: v => v.toFixed(1)}});
  series.push({type: 'scatter', xAxisIndex: p, yAxisIndex: p, data: points(p), symbol: 'circle', symbolSize: 6,
    itemStyle: {color: '#333333', opacity: 1}, clip: false, silent: true, animation: false});
  titles.push({text: name, left: colLeft[c] + 5, top: rowTop[r] + 7, padding: 0,
    textStyle: {fontSize: 16, fontWeight: 'normal', color: '#1a1a1a', fontFamily: FONT}});
});

const chart = echarts.init(document.getElementById('c'), null, {renderer: 'canvas'});
chart.setOption({
  animation: false,
  backgroundColor: '#ffffff',
  title: titles,
  grid: grids,
  xAxis: xAxes,
  yAxis: yAxes,
  series: series,
  graphic: [
    {type: 'text', x: 513, y: 452, silent: true,
      style: {text: 'Mass of tryptic peptide', fill: '#1a1a1a', font: '19px ' + FONT, align: 'center', verticalAlign: 'middle', textAlign: 'center', textVerticalAlign: 'middle'}},
    {type: 'text', x: 26, y: 202, rotation: Math.PI / 2, silent: true,
      style: {text: 'Normalized frequency', fill: '#1a1a1a', font: '18px ' + FONT, align: 'center', verticalAlign: 'middle', textAlign: 'center', textVerticalAlign: 'middle'}}
  ]
});
</script>
</body>
</html>
